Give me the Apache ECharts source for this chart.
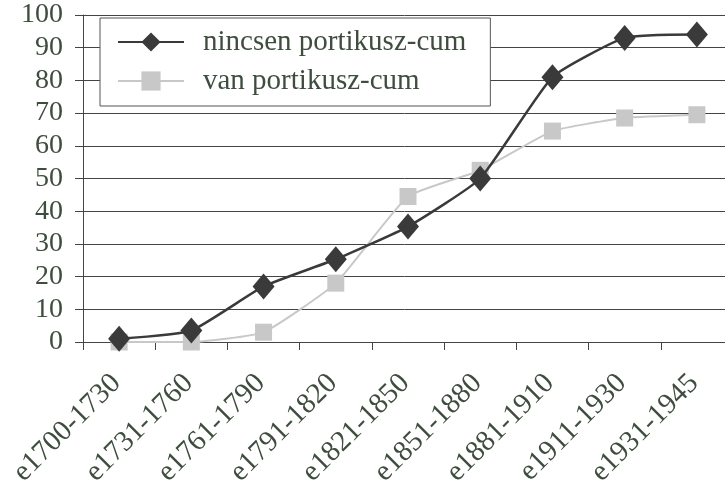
<!DOCTYPE html>
<html>
<head>
<meta charset="utf-8">
<script src="https://cdn.jsdelivr.net/npm/echarts@6/dist/echarts.min.js"></script>
<style>
  html, body { margin: 0; padding: 0; background: #fff; }
  #chart { width: 725px; height: 491px; }
</style>
</head>
<body>
<div id="chart"></div>
<script>
const categories = ['e1700-1730', 'e1731-1760', 'e1761-1790', 'e1791-1820', 'e1821-1850',
  'e1851-1880', 'e1881-1910', 'e1911-1930', 'e1931-1945'];
const nincsen = [1, 3.5, 17, 25.3, 35.3, 50, 81, 93, 94];
const van = [0, 0, 3, 18, 44.5, 52.5, 64.5, 68.5, 69.5];
const yTicks = { min: 0, max: 100, interval: 10 };

const textColor = '#3f4d3f';
const font = '"Liberation Serif", "Times New Roman", serif';

const chart = echarts.init(document.getElementById('chart'));
chart.setOption({
  animation: false,
  textStyle: { fontFamily: font },
  // plot runs a little past the right edge, like the cropped original
  grid: { left: 83, width: 650, top: 15, bottom: 149, containLabel: false, outerBoundsMode: 'none' },
  legend: {
    orient: 'vertical',
    left: 100,
    top: 18,
    padding: [9, 24, 10, 17],
    itemGap: 9,
    itemWidth: 66,
    itemHeight: 24,
    borderColor: '#555',
    borderWidth: 1,
    backgroundColor: '#fff',
    textStyle: { fontFamily: font, fontSize: 29, lineHeight: 30, color: textColor, padding: [0, 0, 0, 14] },
    data: ['nincsen portikusz-cum', 'van portikusz-cum']
  },
  xAxis: {
    type: 'category',
    data: categories,
    boundaryGap: true,
    axisLine: { lineStyle: { color: '#444', width: 1 } },
    axisTick: { show: true, length: 8, lineStyle: { color: '#444' } },
    axisLabel: { rotate: 45, fontSize: 29, color: textColor, fontFamily: font, margin: 34, padding: [0, 4, 0, 0], interval: 0 }
  },
  yAxis: {
    type: 'value',
    min: yTicks.min,
    max: yTicks.max,
    interval: yTicks.interval,
    axisLine: { show: true, lineStyle: { color: '#444', width: 1 } },
    axisTick: { show: true, length: 8, lineStyle: { color: '#444' } },
    axisLabel: { fontSize: 28, color: textColor, fontFamily: font, margin: 20 },
    splitLine: { show: true, lineStyle: { color: '#444', width: 1 } }
  },
  series: [
    {
      name: 'nincsen portikusz-cum',
      type: 'line',
      data: nincsen,
      smooth: 0.15,
      symbol: 'diamond',
      symbolSize: [22, 26],
      lineStyle: { color: '#3a3a3a', width: 2.5 },
      itemStyle: { color: '#3a3a3a' },
      z: 3
    },
    {
      name: 'van portikusz-cum',
      type: 'line',
      data: van,
      smooth: 0.15,
      symbol: 'rect',
      symbolSize: 17,
      lineStyle: { color: '#c8c8c8', width: 2 },
      itemStyle: { color: '#c8c8c8' },
      z: 2
    }
  ]
});
</script>
</body>
</html>
